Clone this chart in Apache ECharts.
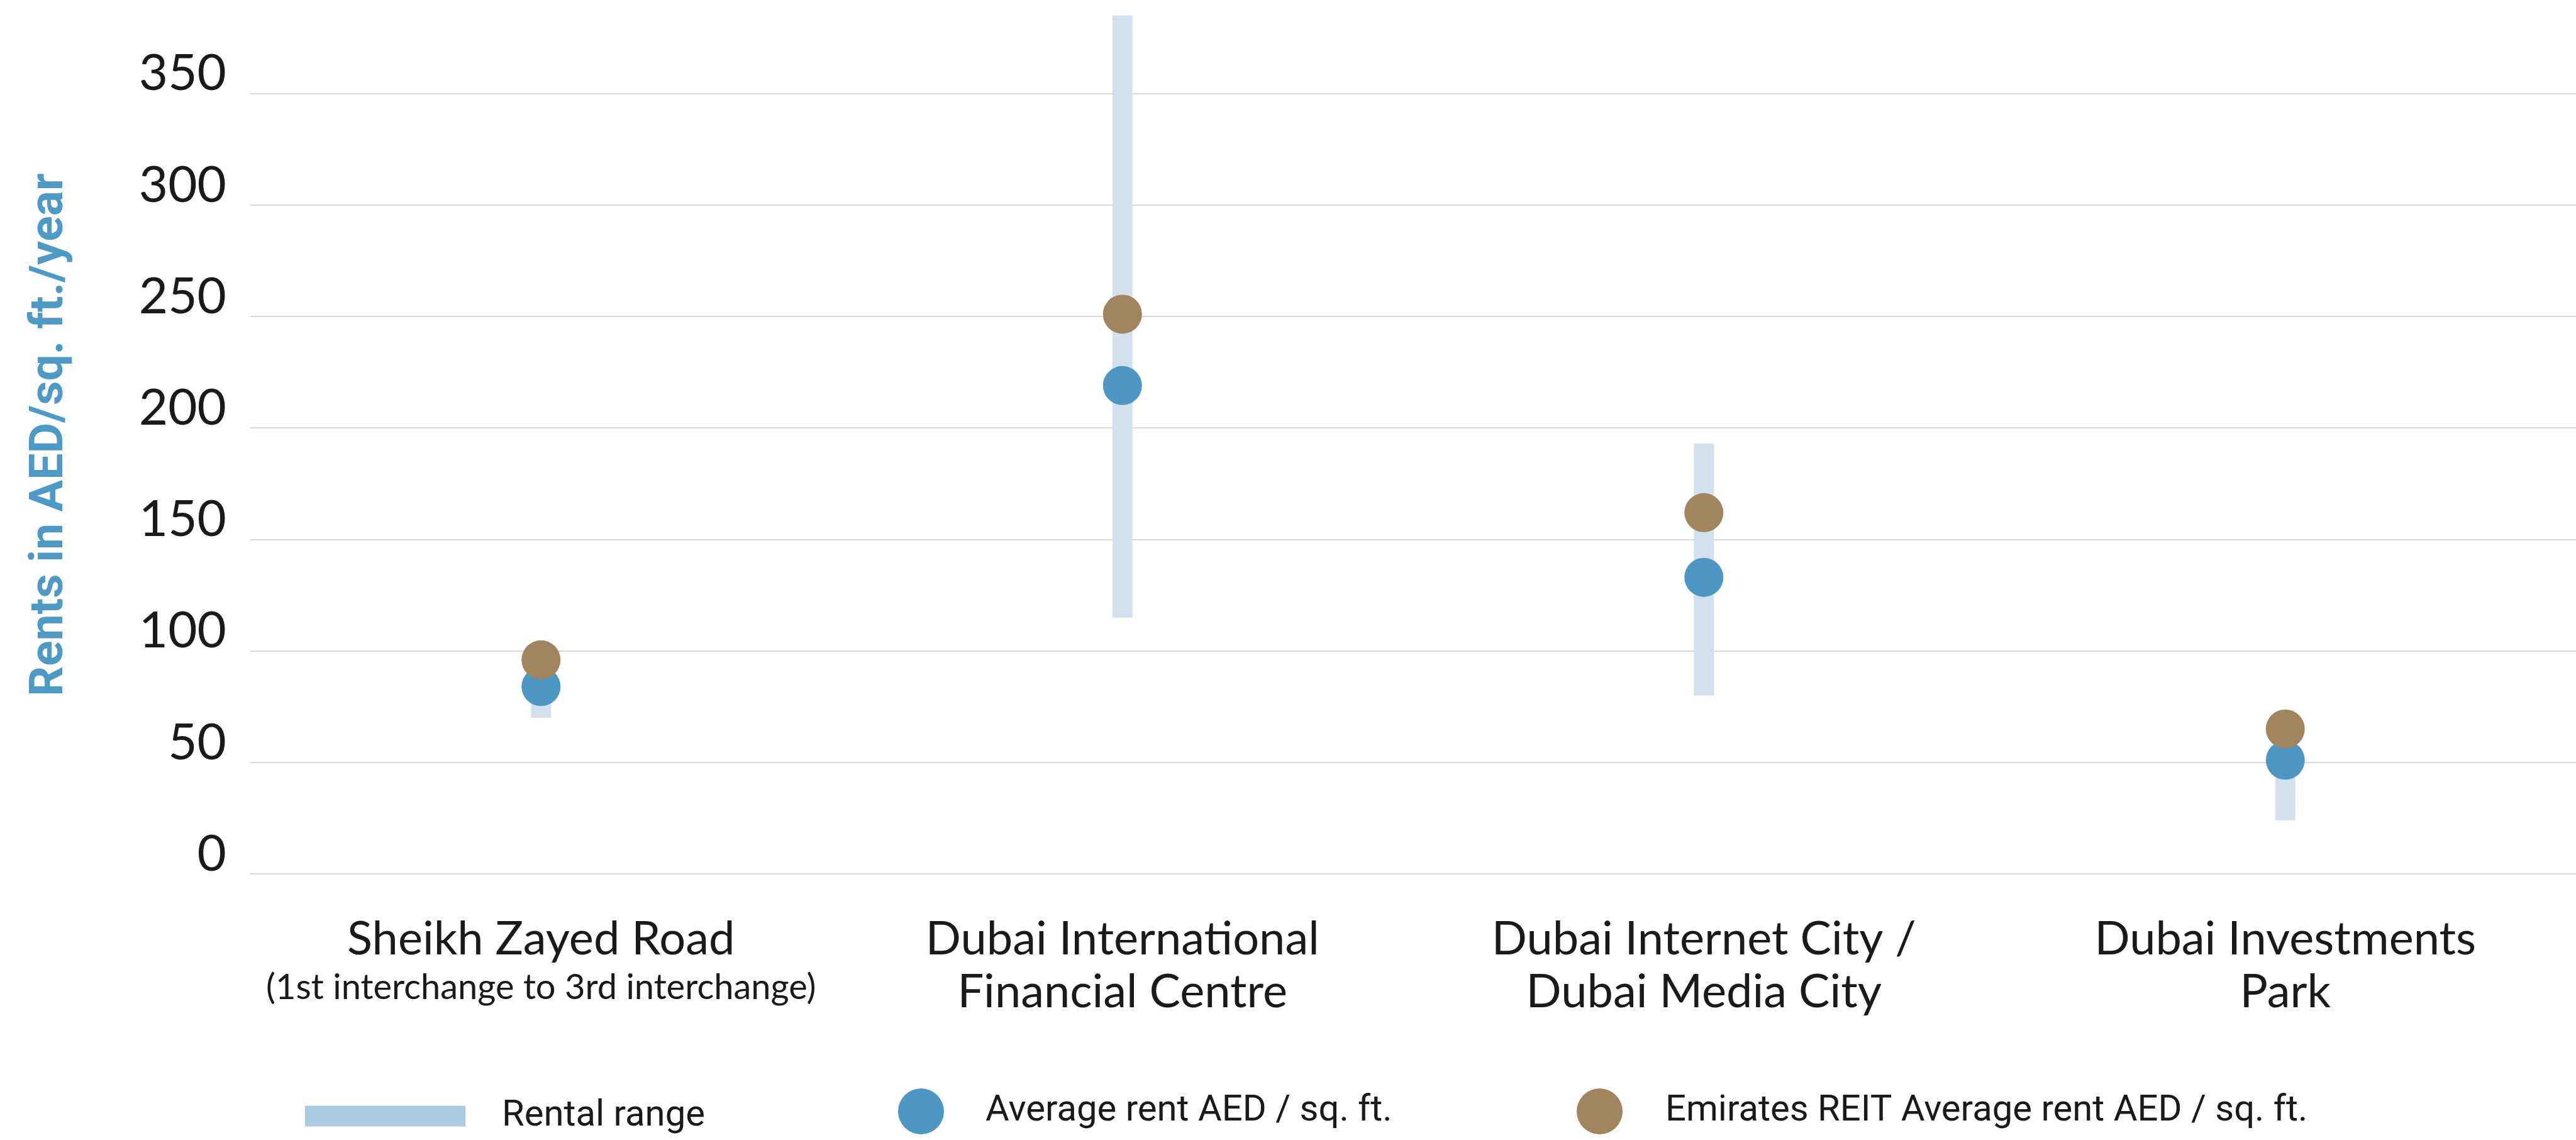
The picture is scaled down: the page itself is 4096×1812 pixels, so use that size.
<!DOCTYPE html>
<html><head><meta charset="utf-8">
<script src="https://cdn.jsdelivr.net/npm/echarts@6/dist/echarts.min.js"></script>
<style>html,body{margin:0;padding:0;background:#fff}#c{width:4096px;height:1812px}</style>
</head><body><div id="c"></div>
<script>
const categories = ['Sheikh Zayed Road', 'Dubai International Financial Centre', 'Dubai Internet City / Dubai Media City', 'Dubai Investments Park'];
const categoryLines = [
  ['Sheikh Zayed Road', '(1st interchange to 3rd interchange)'],
  ['Dubai International', 'Financial Centre'],
  ['Dubai Internet City /', 'Dubai Media City'],
  ['Dubai Investments', 'Park']
];
const rangeLow = [70, 115, 80, 24];
const rangeHigh = [100, 385, 193, 65];
const avgRent = [84, 219, 133, 51];
const reitRent = [96, 251, 162, 65];
const yTickLabels = ['0', '50', '100', '150', '200', '250', '300', '350'];
const seriesNames = ['Rental range', 'Average rent AED / sq. ft.', 'Emirates REIT Average rent AED / sq. ft.'];
const yTitle = 'Rents in AED/sq. ft./year';

const chart = echarts.init(document.getElementById('c'), null, {renderer: 'canvas'});
const legendText = {fontFamily: 'Roboto', fontSize: 58, color: '#1a1a1a'};
const option = {
  backgroundColor: '#ffffff',
  animation: false,
  grid: {left: 398, right: 0, top: -28.6, bottom: 423, containLabel: false, outerBoundsMode: 'none'},
  legend: [
    {data: [{name: seriesNames[0], itemStyle: {color: '#A9CCE3'}}], icon: 'rect', left: 480, top: 1740, itemWidth: 255, itemHeight: 33,
     textStyle: Object.assign({padding: [0, 0, 0, 53]}, legendText), selectedMode: false},
    {data: [seriesNames[1]], icon: 'circle', left: 1423, top: 1725, itemWidth: 73, itemHeight: 73,
     textStyle: Object.assign({padding: [0, 0, 0, 61]}, legendText), selectedMode: false},
    {data: [seriesNames[2]], icon: 'circle', left: 2502, top: 1725, itemWidth: 73, itemHeight: 73,
     textStyle: Object.assign({padding: [0, 0, 0, 63]}, legendText), selectedMode: false}
  ],
  xAxis: {
    type: 'category', data: categories, boundaryGap: true,
    axisLine: {show: false}, axisTick: {show: false}, splitLine: {show: false},
    axisLabel: {
      interval: 0, margin: 62,
      formatter: function (v, i) {
        const l = categoryLines[i];
        if (i === 0) return '{a|' + l[0] + '}\n{b|' + l[1] + '}';
        return '{a|' + l[0] + '}\n{a|' + l[1] + '}';
      },
      rich: {
        a: {fontFamily: 'Lato', fontSize: 74, lineHeight: 84, color: '#1a1a1a', align: 'center'},
        b: {fontFamily: 'Lato', fontSize: 56, lineHeight: 70, color: '#1a1a1a', align: 'center'}
      }
    }
  },
  yAxis: {
    type: 'value', min: 0, max: 400, interval: 50,
    name: yTitle, nameLocation: 'middle', nameGap: 280,
    nameTextStyle: {fontFamily: 'Roboto', fontWeight: 'bold', fontSize: 75, color: '#4E9AC6', padding: [0, 22, 0, 0]},
    axisLine: {show: false}, axisTick: {show: false},
    axisLabel: {
      margin: 38, fontFamily: 'Lato', fontSize: 80, lineHeight: 62, verticalAlign: 'bottom', color: '#1a1a1a',
      formatter: function (v) { const s = String(v); return yTickLabels.indexOf(s) >= 0 ? s : ''; }
    },
    splitLine: {show: true, lineStyle: {color: '#D9D9D9', width: 2}}
  },
  series: [
    {
      name: seriesNames[0], type: 'custom', itemStyle: {color: '#D3E0EE'},
      encode: {x: 0, y: [1, 2]},
      data: categories.map((c, i) => [i, rangeLow[i], rangeHigh[i]]),
      renderItem: function (params, api) {
        const lo = api.coord([api.value(0), api.value(1)]);
        const hi = api.coord([api.value(0), api.value(2)]);
        const w = 32;
        return {type: 'rect', shape: {x: lo[0] - w / 2, y: hi[1], width: w, height: lo[1] - hi[1]}, style: {fill: '#D3E0EE'}};
      },
      z: 2
    },
    {name: seriesNames[1], type: 'scatter', data: avgRent, symbol: 'circle', symbolSize: 62, itemStyle: {color: '#4D97C4', opacity: 1}, z: 3},
    {name: seriesNames[2], type: 'scatter', data: reitRent, symbol: 'circle', symbolSize: 62, itemStyle: {color: '#A2845E', opacity: 1}, z: 4}
  ]
};
chart.setOption(option);
</script>
</body></html>
